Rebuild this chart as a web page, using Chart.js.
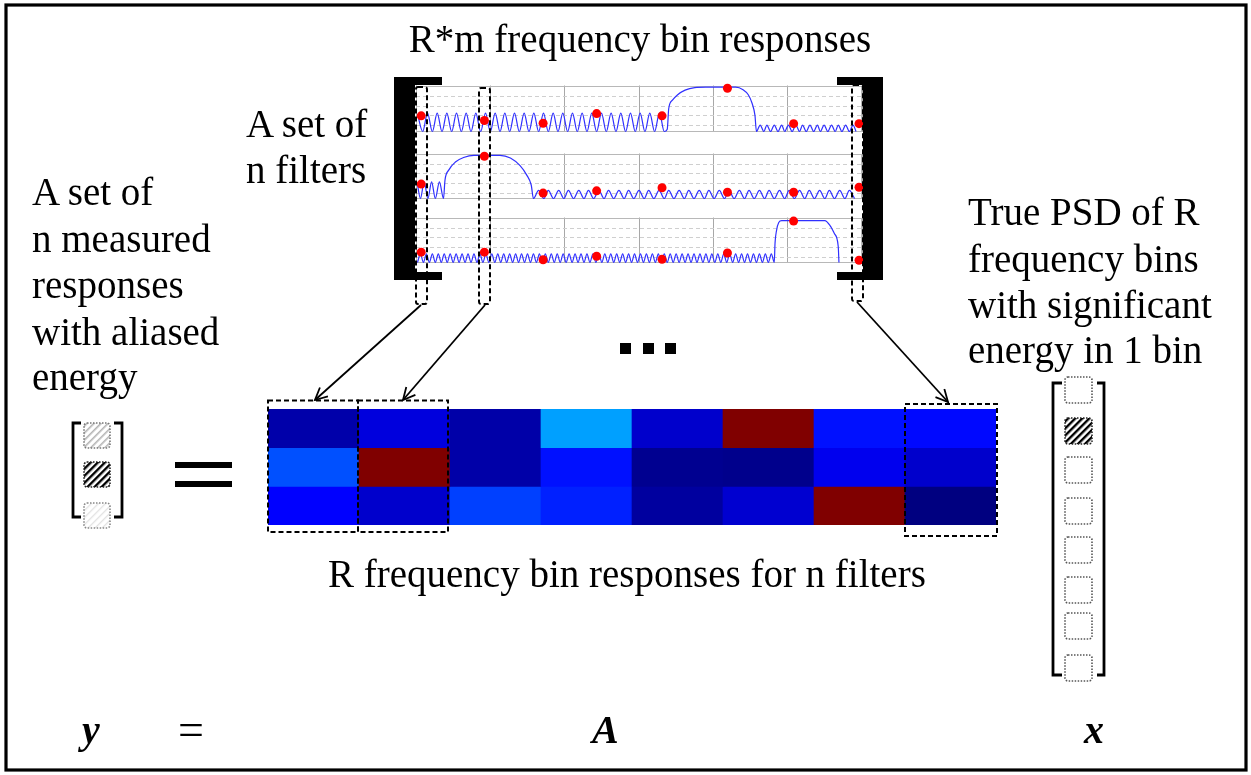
<!DOCTYPE html>
<html>
<head>
<meta charset="utf-8">
<script src="https://cdn.jsdelivr.net/npm/chart.js@4.4.1/dist/chart.umd.min.js"></script>
<style>
  html, body { margin: 0; padding: 0; background: #fff; }
  body { width: 1251px; height: 775px; position: relative; overflow: hidden; }
  .box { position: absolute; }
  #overlay { position: absolute; left: 0; top: 0; }
  #overlay text { font-family: "Liberation Serif", "Times New Roman", serif; font-size: 39px; fill: #000; }
  #overlay text.math { font-weight: bold; font-style: italic; font-size: 40px; }
</style>
</head>
<body>
<div class="box" style="left:410px; top:81px; width:458px; height:55px;"><canvas id="filter1"></canvas></div>
<div class="box" style="left:410px; top:149px; width:458px; height:54px;"><canvas id="filter2"></canvas></div>
<div class="box" style="left:410px; top:213px; width:458px; height:54px;"><canvas id="filter3"></canvas></div>
<div class="box" style="left:268px; top:409px; width:728px; height:116px;"><canvas id="heat"></canvas></div>

<svg id="overlay" width="1251" height="775" xmlns="http://www.w3.org/2000/svg">
  <defs>
    <pattern id="hatchDark" patternUnits="userSpaceOnUse" width="5" height="5" patternTransform="rotate(45)">
      <rect width="2.4" height="5" fill="#000"/>
    </pattern>
    <pattern id="hatchGrey" patternUnits="userSpaceOnUse" width="5" height="5" patternTransform="rotate(45)">
      <rect width="1.6" height="5" fill="#b5b5b5"/>
    </pattern>
    <pattern id="hatchLight" patternUnits="userSpaceOnUse" width="5" height="5" patternTransform="rotate(45)">
      <rect width="1.3" height="5" fill="#e2e2e2"/>
    </pattern>
    <marker id="head" markerUnits="userSpaceOnUse" markerWidth="16" markerHeight="16" refX="13" refY="7" orient="auto">
      <path d="M1,1 L13,7 L1,13" fill="none" stroke="#000" stroke-width="1.8"/>
    </marker>
  </defs>

  <!-- outer frame -->
  <rect x="6" y="5" width="1240" height="765" fill="none" stroke="#000" stroke-width="3.2"/>

  <!-- texts -->
  <text x="640" y="52" text-anchor="middle">R*m frequency bin responses</text>
  <text x="246" y="137">A set of</text>
  <text x="246" y="183">n filters</text>
  <text x="32" y="205">A set of</text>
  <text x="32" y="252">n measured</text>
  <text x="32" y="298">responses</text>
  <text x="32" y="345">with aliased</text>
  <text x="32" y="390">energy</text>
  <text x="968" y="225">True PSD of R</text>
  <text x="968" y="272">frequency bins</text>
  <text x="968" y="318">with significant</text>
  <text x="968" y="363">energy in 1 bin</text>
  <text x="328" y="587">R frequency bin responses for n filters</text>
  <text class="math" x="82" y="743">y</text>
  <text x="178" y="745" style="font-size:46px">=</text>
  <text class="math" x="592" y="743">A</text>
  <text class="math" x="1084" y="743">x</text>

  <!-- big brackets around filter plots -->
  <path d="M394,77 H442 V85 H415 V272 H442 V280 H394 Z" fill="#000"/>
  <path d="M883,77 H837 V85 H863 V272 H837 V280 H883 Z" fill="#000"/>

  <!-- selected bins on the filter plots and on the matrix -->
  <g fill="none" stroke="#000" stroke-width="2" stroke-dasharray="5 3">
    <rect x="416" y="87" width="11" height="217" rx="2"/>
    <rect x="479" y="88" width="11" height="216" rx="2"/>
    <rect x="852" y="85" width="11" height="216" rx="2"/>
    <rect x="268" y="400.5" width="90" height="131.5"/>
    <rect x="358" y="400.5" width="90" height="131.5"/>
    <rect x="905" y="404" width="92" height="132"/>
  </g>

  <!-- arrows -->
  <g stroke="#000" stroke-width="1.8" marker-end="url(#head)">
    <line x1="421" y1="305" x2="315" y2="400"/>
    <line x1="485" y1="305" x2="403" y2="400"/>
    <line x1="857" y1="302" x2="948" y2="402"/>
  </g>

  <!-- ellipsis -->
  <rect x="620" y="343" width="11" height="11" fill="#000"/>
  <rect x="643" y="343" width="11" height="11" fill="#000"/>
  <rect x="665" y="343" width="11" height="11" fill="#000"/>

  <!-- y vector -->
  <path d="M81,423 H73 V517 H81 M114,423 H122 V517 H114" fill="none" stroke="#000" stroke-width="2.8"/>
  <rect x="84" y="423" width="26" height="25" rx="3" fill="url(#hatchGrey)" stroke="#777" stroke-width="1.6" stroke-dasharray="1.5 1.5"/>
  <rect x="84" y="462" width="26" height="25" rx="3" fill="url(#hatchDark)" stroke="#222" stroke-width="1.6" stroke-dasharray="1.5 1.5"/>
  <rect x="84" y="503" width="26" height="25" rx="3" fill="url(#hatchLight)" stroke="#888" stroke-width="1.6" stroke-dasharray="1.5 1.5"/>

  <!-- equals sign -->
  <rect x="175" y="462" width="57" height="6" fill="#000"/>
  <rect x="175" y="481" width="57" height="6" fill="#000"/>

  <!-- x vector -->
  <path d="M1062,383 H1053 V675 H1062 M1097,383 H1104 V675 H1097" fill="none" stroke="#000" stroke-width="2.8"/>
  <g id="xBoxes"></g>
</svg>

<script>
// frequency positions of the R*m sampled bins (shared by the three filters), axis 0..6
const binX = [0.07, 0.92, 1.71, 2.43, 3.31, 4.19, 5.08, 5.96];
// red dots: sampled response of each filter
const dots1 = [0.34, 0.24, 0.18, 0.39, 0.34, 0.94, 0.17, 0.17];
const dots2 = [0.32, 0.94, 0.12, 0.17, 0.24, 0.14, 0.14, 0.25];
const dots3 = [0.23, 0.23, 0.06, 0.14, 0.07, 0.21, 0.92, 0.05];
// dashed horizontal grid levels
const gridY = [0.12, 0.34, 0.55, 0.76];

// filter 1 response (blue curve)
const f1X = [0.02, 0.09, 0.155, 0.22, 0.285, 0.35, 0.415, 0.48, 0.545, 0.61, 0.675, 0.74, 0.805, 0.87, 0.935, 1.00, 1.065,
  1.13, 1.195, 1.26, 1.325, 1.39, 1.455, 1.52, 1.585, 1.65, 1.715, 1.78, 1.845, 1.91, 1.975, 2.04, 2.105, 2.17, 2.235,
  2.30, 2.365, 2.43, 2.495, 2.56, 2.625, 2.69, 2.755, 2.82, 2.885, 2.95, 3.015, 3.08, 3.145, 3.21, 3.275, 3.34,
  3.38, 3.40, 3.45, 3.52, 3.62, 3.75, 3.90, 4.30, 4.40, 4.47, 4.52, 4.56, 4.58,
  4.63, 4.68, 4.72, 4.77, 4.82, 4.87, 4.92, 4.96, 5.01, 5.06, 5.11, 5.16, 5.20, 5.25, 5.30, 5.35, 5.40, 5.44,
  5.49, 5.54, 5.59, 5.64, 5.68, 5.73, 5.78, 5.83, 5.88, 5.92];
const f1Y = [0.38, 0, 0.4, 0, 0.4, 0, 0.4, 0, 0.4, 0, 0.4, 0, 0.4, 0, 0.4, 0, 0.4,
  0, 0.4, 0, 0.4, 0, 0.4, 0, 0.4, 0, 0.4, 0, 0.4, 0, 0.4, 0, 0.4, 0, 0.4,
  0, 0.4, 0, 0.4, 0, 0.4, 0, 0.4, 0, 0.4, 0, 0.4, 0, 0.4, 0, 0.4, 0,
  0.05, 0.5, 0.68, 0.8, 0.9, 0.955, 0.965, 0.965, 0.91, 0.8, 0.62, 0.35, 0,
  0.14, 0, 0.14, 0, 0.14, 0, 0.14, 0, 0.14, 0, 0.14, 0, 0.14, 0, 0.14, 0, 0.14, 0,
  0.14, 0, 0.14, 0, 0.14, 0, 0.14, 0, 0.14, 0];

// filter 2 response
const f2X = [0.02, 0.06, 0.11, 0.16, 0.21, 0.26, 0.315, 0.37,
  0.39, 0.44, 0.53, 0.64, 0.78, 1.13, 1.27, 1.40, 1.49, 1.55, 1.58,
  1.65, 1.72, 1.78, 1.85, 1.92, 1.99, 2.05, 2.12, 2.19, 2.26, 2.32, 2.39, 2.46, 2.53, 2.59, 2.66,
  2.73, 2.80, 2.86, 2.93, 3.00, 3.07, 3.13, 3.20, 3.27, 3.34, 3.40, 3.47, 3.54, 3.61, 3.67, 3.74,
  3.81, 3.88, 3.94, 4.01, 4.08, 4.15, 4.21, 4.28, 4.35, 4.42, 4.48, 4.55, 4.62, 4.69, 4.75, 4.82,
  4.89, 4.96, 5.02, 5.09, 5.16, 5.23, 5.29, 5.36, 5.43, 5.50, 5.56, 5.63, 5.70, 5.77, 5.83, 5.90];
const f2Y = [0.3, 0, 0.37, 0, 0.37, 0, 0.37, 0,
  0.41, 0.63, 0.81, 0.91, 0.96, 0.96, 0.9, 0.73, 0.52, 0.3, 0,
  0.18, 0, 0.18, 0, 0.18, 0, 0.18, 0, 0.18, 0, 0.18, 0, 0.18, 0, 0.18, 0,
  0.18, 0, 0.18, 0, 0.18, 0, 0.18, 0, 0.18, 0, 0.18, 0, 0.18, 0, 0.18, 0,
  0.18, 0, 0.18, 0, 0.18, 0, 0.18, 0, 0.18, 0, 0.18, 0, 0.18, 0, 0.18, 0,
  0.18, 0, 0.18, 0, 0.18, 0, 0.18, 0, 0.18, 0, 0.18, 0, 0.18, 0, 0.18, 0];

// filter 3 response
const f3X = [0.02, 0.06, 0.10, 0.14, 0.18, 0.22, 0.26, 0.30, 0.34, 0.38, 0.42, 0.46, 0.50, 0.54, 0.58, 0.62, 0.66, 0.70,
  0.74, 0.78, 0.82, 0.86, 0.90, 0.94, 0.98, 1.02, 1.06, 1.10, 1.14, 1.18, 1.22, 1.26, 1.30, 1.34, 1.38, 1.42, 1.46,
  1.50, 1.54, 1.58, 1.62, 1.66, 1.70, 1.74, 1.78, 1.82, 1.86, 1.90, 1.94, 1.98, 2.02, 2.06, 2.10, 2.14, 2.18, 2.22,
  2.26, 2.30, 2.34, 2.38, 2.42, 2.46, 2.50, 2.54, 2.58, 2.62, 2.66, 2.70, 2.74, 2.78, 2.82, 2.86, 2.90, 2.94, 2.98,
  3.02, 3.06, 3.10, 3.14, 3.18, 3.22, 3.26, 3.30, 3.34, 3.38, 3.42, 3.46, 3.50, 3.54, 3.58, 3.62, 3.66, 3.70, 3.74,
  3.78, 3.82, 3.86, 3.90, 3.94, 3.98, 4.02, 4.06, 4.10, 4.14, 4.18, 4.22, 4.26, 4.30, 4.34, 4.38, 4.42, 4.46, 4.50,
  4.54, 4.58, 4.62, 4.66, 4.70, 4.74, 4.78, 4.82,
  4.83, 4.85, 4.88, 4.92, 5.50, 5.57, 5.63, 5.68, 5.69];
const f3Y = [0, 0.19, 0, 0.19, 0, 0.19, 0, 0.19, 0, 0.19, 0, 0.19, 0, 0.19, 0, 0.19, 0, 0.19,
  0, 0.19, 0, 0.19, 0, 0.19, 0, 0.19, 0, 0.19, 0, 0.19, 0, 0.19, 0, 0.19, 0, 0.19, 0,
  0.19, 0, 0.19, 0, 0.19, 0, 0.19, 0, 0.19, 0, 0.19, 0, 0.19, 0, 0.19, 0, 0.19, 0, 0.19,
  0, 0.19, 0, 0.19, 0, 0.19, 0, 0.19, 0, 0.19, 0, 0.19, 0, 0.19, 0, 0.19, 0, 0.19, 0,
  0.19, 0, 0.19, 0, 0.19, 0, 0.19, 0, 0.19, 0, 0.19, 0, 0.19, 0, 0.19, 0, 0.19, 0, 0.19,
  0, 0.19, 0, 0.19, 0, 0.19, 0, 0.19, 0, 0.19, 0, 0.19, 0, 0.19, 0, 0.19, 0, 0.19, 0,
  0.19, 0, 0.19, 0, 0.19, 0, 0.19, 0,
  0.43, 0.71, 0.89, 0.93, 0.93, 0.82, 0.64, 0.36, 0];

// heat map of R bin responses for n filters (0 = dark blue, 1 = dark red, jet scale)
const heatBins = ['1', '2', '3', '4', '5', '6', '7', '8'];
const heatRow1 = [0.042, 0.092, 0.040, 0.282, 0.075, 1.0, 0.141, 0.133];
const heatRow2 = [0.203, 1.0, 0.040, 0.141, 0.016, 0.012, 0.108, 0.075];
const heatRow3 = [0.125, 0.075, 0.188, 0.156, 0.031, 0.079, 1.0, 0.0];

// x vector boxes: which one carries energy
const xEntries = [0, 1, 0, 0, 0, 0, 0, 0];

function jet(v) {
  const c = t => Math.round(255 * Math.max(0, Math.min(1, t)));
  return `rgb(${c(1.5 - Math.abs(4 * v - 3))},${c(1.5 - Math.abs(4 * v - 2))},${c(1.5 - Math.abs(4 * v - 1))})`;
}

const framePlugin = {
  id: 'frame',
  beforeDatasetsDraw(chart) {
    const { ctx, chartArea: a } = chart;
    ctx.save();
    ctx.strokeStyle = '#b8b8b8';
    ctx.lineWidth = 1;
    ctx.strokeRect(Math.round(a.left) + 0.5, Math.round(a.top) + 0.5, Math.round(a.width) - 1, Math.round(a.height) - 1);
    ctx.restore();
  }
};

function filterChart(id, xs, ys, dots) {
  new Chart(document.getElementById(id), {
    type: 'line',
    data: {
      datasets: [
        {
          data: binX.map((x, i) => ({ x, y: dots[i] })),
          type: 'scatter',
          pointRadius: 4.5,
          pointBackgroundColor: '#ff0000',
          pointBorderWidth: 0,
          clip: false,
          order: 0
        },
        {
          data: xs.map((x, i) => ({ x, y: ys[i] })),
          borderColor: '#3030ff',
          borderWidth: 1.2,
          pointRadius: 0,
          cubicInterpolationMode: 'monotone',
          clip: false,
          order: 1
        }
      ]
    },
    options: {
      animation: false,
      responsive: true,
      maintainAspectRatio: false,
      layout: { padding: { left: 6, right: 6, top: 4, bottom: 4 } },
      plugins: { legend: { display: false }, tooltip: { enabled: false } },
      scales: {
        x: {
          type: 'linear', min: 0, max: 6,
          ticks: { display: false, stepSize: 1 },
          grid: { color: '#a8a8a8', drawTicks: false },
          border: { display: false }
        },
        y: {
          type: 'linear', min: 0, max: 1,
          afterBuildTicks: axis => { axis.ticks = gridY.map(v => ({ value: v })); },
          ticks: { display: false },
          grid: { color: '#cfcfcf', drawTicks: false },
          border: { display: false, dash: [4, 3] }
        }
      }
    },
    plugins: [framePlugin]
  });
}

filterChart('filter1', f1X, f1Y, dots1);
filterChart('filter2', f2X, f2Y, dots2);
filterChart('filter3', f3X, f3Y, dots3);

new Chart(document.getElementById('heat'), {
  type: 'bar',
  data: {
    labels: heatBins,
    datasets: [heatRow1, heatRow2, heatRow3].map(row => ({
      data: row.map(() => 1),
      backgroundColor: row.map(jet),
      borderWidth: 0,
      barPercentage: 1,
      categoryPercentage: 1,
      stack: 'rows'
    }))
  },
  options: {
    animation: false,
    responsive: true,
    maintainAspectRatio: false,
    layout: { padding: 0 },
    plugins: { legend: { display: false }, tooltip: { enabled: false } },
    scales: {
      x: { display: false, stacked: true },
      y: { display: false, stacked: true, reverse: true, min: 0, max: 3 }
    }
  }
});

// x vector boxes
const xBoxY = [377, 418, 457, 498, 537, 577, 613, 655];
const ns = 'http://www.w3.org/2000/svg';
const g = document.getElementById('xBoxes');
xEntries.forEach((on, i) => {
  const r = document.createElementNS(ns, 'rect');
  r.setAttribute('x', 1065);
  r.setAttribute('y', xBoxY[i]);
  r.setAttribute('width', 27);
  r.setAttribute('height', 26);
  r.setAttribute('rx', 3);
  r.setAttribute('fill', on ? 'url(#hatchDark)' : 'none');
  r.setAttribute('stroke', on ? '#222' : '#555');
  r.setAttribute('stroke-width', 1.6);
  r.setAttribute('stroke-dasharray', '1.5 1.5');
  g.appendChild(r);
});
</script>
</body>
</html>
